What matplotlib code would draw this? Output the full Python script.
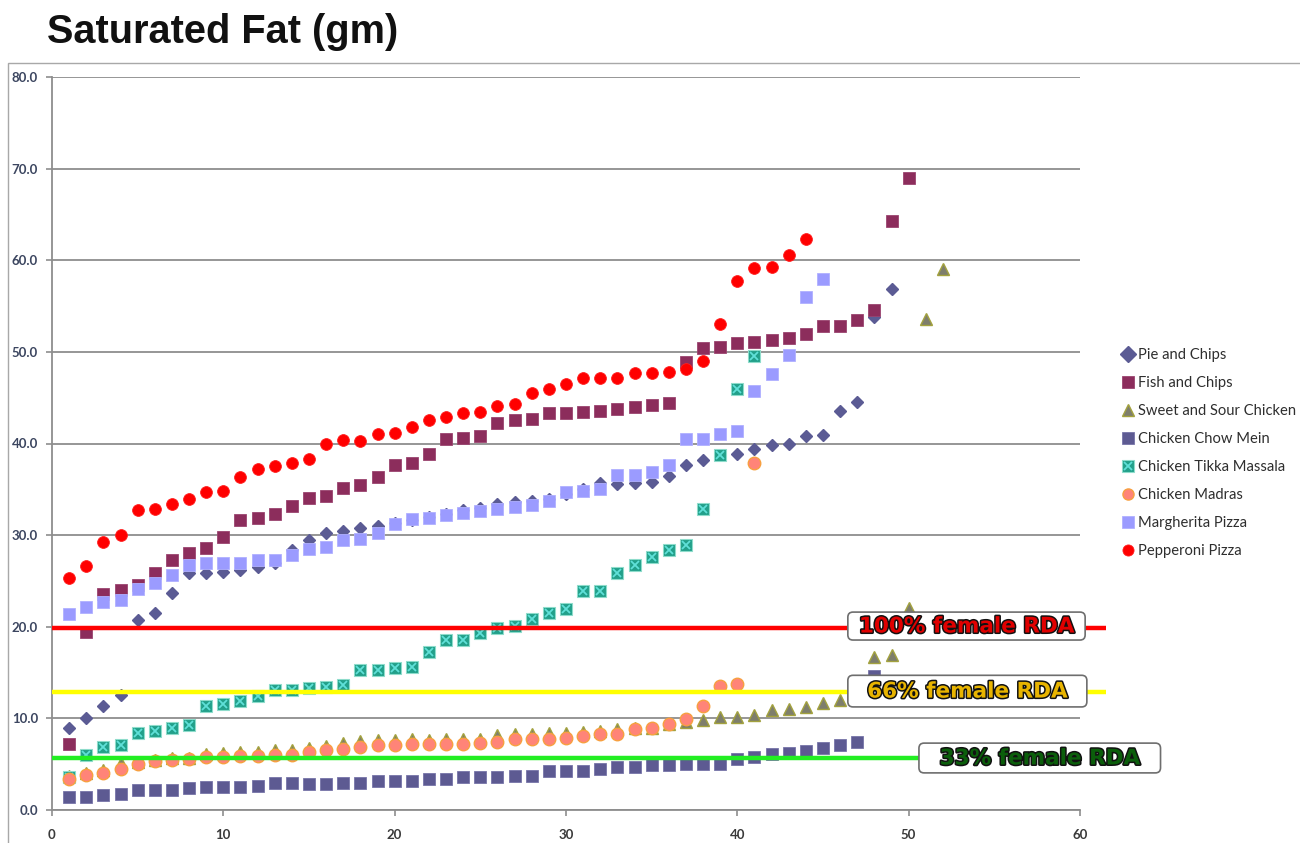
import matplotlib
matplotlib.use("Agg")
import matplotlib.pyplot as plt
import matplotlib.patches as patches
import matplotlib.patheffects as pe

# saturated fat per dish, sorted low to high within each dish
pie_chips = [8.9, 10.0, 11.4, 12.6, 20.7, 21.5, 23.7, 25.9, 25.9, 26.0,
             26.2, 26.5, 27.0, 28.4, 29.5, 30.2, 30.4, 30.8, 31.0, 31.3,
             31.7, 32.0, 32.3, 32.7, 33.0, 33.4, 33.6, 33.7, 33.9, 34.5,
             35.0, 35.7, 35.6, 35.7, 35.8, 36.4, 37.6, 38.2, 38.7, 38.9,
             39.4, 39.8, 40.0, 40.8, 40.9, 43.5, 44.5, 53.8, 56.9]
fish_chips = [7.2, 19.4, 23.6, 24.0, 24.6, 25.9, 27.3, 28.0, 28.6, 29.8,
              31.6, 31.9, 32.3, 33.2, 34.1, 34.3, 35.1, 35.5, 36.3, 37.7,
              37.9, 38.9, 40.5, 40.6, 40.8, 42.2, 42.6, 42.7, 43.3, 43.3,
              43.4, 43.6, 43.8, 44.0, 44.2, 44.4, 48.9, 50.4, 50.5, 51.0,
              51.1, 51.3, 51.5, 52.0, 52.8, 52.8, 53.5, 54.6, 64.3, 69.0]
sweet_sour = [3.7, 4.0, 4.4, 5.1, 5.2, 5.5, 5.7, 5.7, 6.15, 6.2,
              6.3, 6.3, 6.5, 6.6, 6.8, 6.95, 7.3, 7.5, 7.6, 7.6,
              7.7, 7.6, 7.7, 7.7, 7.7, 8.15, 8.25, 8.25, 8.35, 8.4,
              8.5, 8.65, 8.8, 8.9, 8.9, 9.4, 9.6, 9.8, 10.1, 10.1,
              10.4, 10.9, 11.0, 11.2, 11.7, 12.0, 13.2, 16.7, 16.9, 22.0,
              53.6, 59.0]
chow_mein = [1.45, 1.45, 1.6, 1.8, 2.2, 2.2, 2.2, 2.35, 2.55, 2.55,
             2.55, 2.65, 2.9, 2.9, 2.85, 2.85, 3.0, 3.0, 3.2, 3.2,
             3.2, 3.4, 3.4, 3.55, 3.55, 3.55, 3.75, 3.75, 4.3, 4.3,
             4.3, 4.45, 4.7, 4.7, 4.9, 4.9, 5.0, 5.0, 5.0, 5.6,
             5.8, 6.1, 6.25, 6.45, 6.8, 7.1, 7.45, 14.6]
tikka = [3.6, 6.0, 6.9, 7.1, 8.4, 8.65, 8.9, 9.3, 11.35, 11.55,
         11.9, 12.45, 13.1, 13.1, 13.35, 13.4, 13.65, 15.3, 15.3, 15.45,
         15.65, 17.2, 18.6, 18.6, 19.3, 19.9, 20.1, 20.9, 21.5, 21.9,
         23.9, 23.9, 25.9, 26.7, 27.6, 28.4, 28.9, 32.8, 38.7, 46.0,
         49.5]
madras = [3.35, 3.8, 4.0, 4.45, 5.0, 5.3, 5.45, 5.55, 5.75, 5.8,
          5.9, 5.9, 6.0, 6.0, 6.3, 6.5, 6.7, 6.85, 7.1, 7.1,
          7.2, 7.2, 7.2, 7.2, 7.3, 7.45, 7.7, 7.7, 7.8, 7.9,
          8.05, 8.25, 8.3, 8.8, 8.9, 9.4, 9.9, 11.35, 13.5, 13.7,
          37.9]
margherita = [21.4, 22.2, 22.7, 22.9, 24.1, 24.8, 25.6, 26.7, 27.0, 27.0,
              27.0, 27.3, 27.3, 27.8, 28.5, 28.7, 29.5, 29.6, 30.2, 31.2,
              31.8, 31.9, 32.2, 32.4, 32.6, 32.9, 33.1, 33.3, 33.7, 34.7,
              34.85, 35.0, 36.6, 36.6, 36.9, 37.7, 40.5, 40.5, 41.0, 41.4,
              45.7, 47.6, 49.7, 56.0, 57.9]
pepperoni = [25.3, 26.6, 29.3, 30.0, 32.7, 32.85, 33.4, 33.9, 34.7, 34.8,
             36.3, 37.2, 37.5, 37.9, 38.3, 40.0, 40.4, 40.3, 41.0, 41.2,
             41.8, 42.6, 42.9, 43.3, 43.4, 44.1, 44.3, 45.5, 46.0, 46.5,
             47.1, 47.1, 47.2, 47.7, 47.7, 47.8, 48.1, 49.0, 53.0, 57.7,
             59.1, 59.3, 60.6, 62.3]

# RDA reference levels (gm)
rda_levels = [19.85, 12.9, 5.7]
rda_labels = ["100% female RDA", "66% female RDA", "33% female RDA"]


def xs(vals):
    return list(range(1, len(vals) + 1))


fig = plt.figure(figsize=(13, 8.43), dpi=100)
ax = fig.add_axes([52 / 1300, 1 - 810 / 843, 1028 / 1300, 733 / 843])

h_pie, = ax.plot(xs(pie_chips), pie_chips, ls="none", marker="D", ms=6.6,
                 mfc="#5B5B94", mec="#5B5B94", label="Pie and Chips")
h_fish, = ax.plot(xs(fish_chips), fish_chips, ls="none", marker="s", ms=9,
                  mfc="#8C2D5C", mec="#9A4470", mew=0.6, label="Fish and Chips")
h_ss, = ax.plot(xs(sweet_sour), sweet_sour, ls="none", marker="^", ms=9,
                mfc="#7E7E6C", mec="#A3A23E", mew=1.0, label="Sweet and Sour Chicken")
h_chow, = ax.plot(xs(chow_mein), chow_mein, ls="none", marker="s", ms=9,
                  mfc="#5D5A92", mec="#7774A8", mew=0.6, label="Chicken Chow Mein")
h_tk1, = ax.plot(xs(tikka), tikka, ls="none", marker="s", ms=9,
                 mfc="#22A08A", mec="#8EDCCB", mew=0.8)
h_tk2, = ax.plot(xs(tikka), tikka, ls="none", marker="x", ms=6,
                 mec="#5FE0D8", mew=1.3)
h_mad, = ax.plot(xs(madras), madras, ls="none", marker="o", ms=9,
                 mfc="#FF8478", mec="#F7A040", mew=1.0, label="Chicken Madras")
h_marg, = ax.plot(xs(margherita), margherita, ls="none", marker="s", ms=9,
                  mfc="#9B9BFF", mec="#B0B0FF", mew=0.6, label="Margherita Pizza")
h_pep, = ax.plot(xs(pepperoni), pepperoni, ls="none", marker="o", ms=8.5,
                 mfc="#FF0000", mec="#FF2020", mew=0.6, label="Pepperoni Pizza")

# RDA lines with their boxed labels
line_cols = ["#FF0000", "#FFFF00", "#22EE22"]
line_ends = [61.5, 61.5, 60]
text_cols = ["#E00000", "#E8B400", "#0B5E0B"]
# box extents (x0, x1, y0, y1) in data units
boxes = [(46.45, 60.3, 18.55, 21.6), (46.45, 60.4, 11.25, 14.7), (50.6, 64.7, 4.05, 7.3)]
for lvl, col, end in zip(rda_levels, line_cols, line_ends):
    ax.plot([0, end], [lvl, lvl], color=col, lw=3.2, zorder=5, clip_on=False,
            solid_capstyle="butt")
for txt, col, (x0, x1, y0, y1) in zip(rda_labels, text_cols, boxes):
    box = patches.FancyBboxPatch((x0, y0), x1 - x0, y1 - y0,
                                 boxstyle="round,pad=0,rounding_size=0.3",
                                 mutation_aspect=1.87, fc="white", ec="#6E6E6E",
                                 lw=1.2, zorder=6, clip_on=False)
    ax.add_patch(box)
    t = ax.text((x0 + x1) / 2, (y0 + y1) / 2 - 0.05, txt, ha="center", va="center",
                fontsize=15.5, fontweight="heavy", family="DejaVu Sans", color=col,
                zorder=7, clip_on=False)
    t.set_path_effects([pe.withStroke(linewidth=2.2, foreground="#111111")])

ax.set_xlim(0, 60)
ax.set_ylim(0, 80)
ax.set_xticks(range(0, 61, 10))
ax.set_yticks(range(0, 81, 10))
ax.set_yticklabels(["%.1f" % v for v in range(0, 81, 10)])
ax.yaxis.grid(True, color="#8E8E8E", lw=1.3)
ax.set_axisbelow(True)
for s in ["top", "right"]:
    ax.spines[s].set_visible(False)
for s in ["left", "bottom"]:
    ax.spines[s].set_color("#8E8E8E")
    ax.spines[s].set_linewidth(1.3)
ax.tick_params(axis="y", length=4, width=1.2, color="#8E8E8E", pad=6,
               labelsize=9.5, labelcolor="#3C4660")
ax.tick_params(axis="x", length=4, width=1.2, color="#8E8E8E", pad=10,
               labelsize=9.5, labelcolor="#3A3A3A")
for lab in ax.get_yticklabels() + ax.get_xticklabels():
    lab.set_family("Lato")
    lab.set_fontweight("bold")

leg = fig.legend([h_pie, h_fish, h_ss, h_chow, (h_tk1, h_tk2), h_mad, h_marg, h_pep],
                 ["Pie and Chips", "Fish and Chips", "Sweet and Sour Chicken",
                  "Chicken Chow Mein", "Chicken Tikka Massala", "Chicken Madras",
                  "Margherita Pizza", "Pepperoni Pizza"],
                 loc="upper left", bbox_to_anchor=(1116 / 1300, 1 - 342 / 843),
                 frameon=False, prop={"family": "Lato", "size": 10.6},
                 handlelength=0.8, handletextpad=0.3, labelspacing=0.95,
                 borderaxespad=0)
for t in leg.get_texts():
    t.set_color("#2E2E2E")
for h in leg.legend_handles:
    try:
        h.set_markersize(8)
    except AttributeError:
        pass

fig.text(47 / 1300, 1 - 43 / 843, "Saturated Fat (gm)", fontsize=28.6,
         fontweight="bold", family="Liberation Sans", color="#111111",
         ha="left", va="baseline")

# chart area border
fig.patches.append(patches.Rectangle((8 / 1300, -0.01), 1.1, (843 - 63) / 843 + 0.01,
                                     transform=fig.transFigure, fill=False,
                                     ec="#A8A8A8", lw=1.0))

fig.savefig("out.png", dpi=100)
